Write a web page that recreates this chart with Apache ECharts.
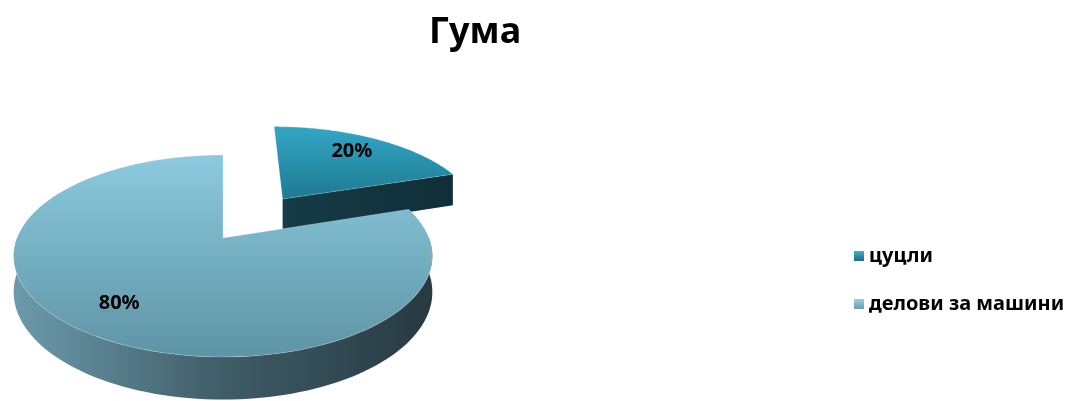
<!DOCTYPE html>
<html>
<head>
<meta charset="utf-8">
<script src="https://cdn.jsdelivr.net/npm/echarts@6/dist/echarts.min.js"></script>
<style>
  html, body { margin: 0; padding: 0; background: #ffffff; }
  #chart { width: 1074px; height: 401px; }
</style>
</head>
<body>
<div id="chart"></div>
<script>
// Chart content
const titleText = 'Гума';
const categories = ['цуцли', 'делови за машини'];
const values = [20, 80];

const FONT = '"Noto Sans", "DejaVu Sans", sans-serif';

// Projection of the tilted disc (u to the right, v towards the viewer)
const PIE = { cx: 223, cy: 238, rx: 206, ry: 97.8, p: 0.178, depth: 35 };
function proj(u, v, h) {
  const s = 1 / (1 - PIE.p * v);
  return [PIE.cx + PIE.rx * u * s, PIE.cy + PIE.ry * v * s + h * PIE.depth * s];
}

// Per-slice look: how far it is pulled out, and its face colours
const sliceStyles = [
  {
    explode: 0.53,
    top: ['#33a6c5', '#1e7a92'],
    wall: ['#5a8898', '#2c4650'],
    cut: ['#163c48', '#0f2e37'],
    legend: ['#3fb0cc', '#1b6c82']
  },
  {
    explode: 0,
    top: ['#8ccadf', '#5e94a5'],
    wall: ['#6d9dae', '#3f5c67', '#263840'],
    cut: ['#4a6f7c', '#2f4851'],
    legend: ['#9ccfe0', '#6a9fb1']
  }
];

const total = values.reduce((a, b) => a + b, 0);
let acc = 0;
const sliceAngles = values.map(v => {
  const a0 = acc / total * Math.PI * 2;
  acc += v;
  return [a0, acc / total * Math.PI * 2];
});

function grad(x0, y0, x1, y1, colors, global) {
  const stops = colors.map((c, k) => ({ offset: colors.length === 1 ? 0 : k / (colors.length - 1), color: c }));
  return new echarts.graphic.LinearGradient(x0, y0, x1, y1, stops, global);
}

function makeRender(i) {
  return function (params, api) {
    const value = api.value(0);
    const [a0, a1] = sliceAngles[i];
    const st = sliceStyles[i];
    const mid = (a0 + a1) / 2;
    const ox = st.explode * Math.sin(mid);
    const oy = -st.explode * Math.cos(mid);
    const pt = (r, th, h) => proj(ox + r * Math.sin(th), oy - r * Math.cos(th), h);
    const children = [];
    const N = 90;

    // outer curved wall (front half only)
    const w0 = Math.max(a0, Math.PI / 2);
    const w1 = Math.min(a1, Math.PI * 3 / 2);
    if (w1 > w0) {
      const topRim = [], botRim = [];
      for (let k = 0; k <= N; k++) {
        const th = w0 + (w1 - w0) * k / N;
        topRim.push(pt(1, th, 0));
        botRim.push(pt(1, th, 1));
      }
      const L = proj(-1.02, 0.18, 0), R = proj(1.02, 0.18, 0);
      children.push({
        type: 'polygon',
        shape: { points: topRim.concat(botRim.reverse()) },
        style: { fill: grad(L[0], 0, R[0], 0, st.wall, true), stroke: null }
      });
    }

    // flat cut faces that turn towards the viewer
    const cutFace = (th) => {
      const c0 = pt(0, th, 0), r0 = pt(1, th, 0), r1 = pt(1, th, 1), c1 = pt(0, th, 1);
      children.push({
        type: 'polygon',
        shape: { points: [c0, r0, r1, c1] },
        style: { fill: grad(c0[0], 0, r0[0], 0, st.cut, true), stroke: null }
      });
    };
    if (-Math.sin(a0) > 0.01) cutFace(a0);
    if (Math.sin(a1) > 0.01) cutFace(a1);

    // top face
    const topPts = [pt(0, 0, 0)];
    for (let k = 0; k <= N; k++) topPts.push(pt(1, a0 + (a1 - a0) * k / N, 0));
    let yMin = Infinity, yMax = -Infinity;
    topPts.forEach(q => { yMin = Math.min(yMin, q[1]); yMax = Math.max(yMax, q[1]); });
    children.push({
      type: 'polygon',
      shape: { points: topPts },
      style: { fill: grad(0, yMin, 0, yMax, st.top, true), stroke: 'rgba(255,255,255,0.18)', lineWidth: 1 }
    });

    // percentage label
    const lp = pt(0.75, mid, 0);
    children.push({
      type: 'text',
      style: {
        text: Math.round(value / total * 100) + '%',
        x: lp[0] - 2, y: lp[1] - 1,
        align: 'center', verticalAlign: 'middle',
        fill: '#000000',
        font: 'bold 20px ' + FONT
      }
    });

    return { type: 'group', children };
  };
}

const chart = echarts.init(document.getElementById('chart'), null, { renderer: 'canvas' });

const option = {
  animation: false,
  backgroundColor: '#ffffff',
  title: {
    text: titleText,
    left: 424,
    top: 10,
    textStyle: { fontFamily: FONT, fontSize: 36, fontWeight: 'bold', color: '#000000' }
  },
  legend: {
    orient: 'vertical',
    left: 849,
    top: 241,
    itemWidth: 10,
    itemHeight: 10,
    itemGap: 28,
    textStyle: { fontFamily: FONT, fontSize: 20, fontWeight: 'bold', color: '#000000' },
    data: categories.map((c, i) => ({
      name: c,
      icon: 'rect',
      itemStyle: { color: grad(0, 0, 0, 1, sliceStyles[i].legend, false) }
    }))
  },
  series: categories.map((c, i) => ({
    type: 'custom',
    name: c,
    coordinateSystem: 'none',
    itemStyle: { color: sliceStyles[i].legend[1] },
    renderItem: makeRender(i),
    data: [[values[i]]]
  }))
};

chart.setOption(option);
</script>
</body>
</html>
